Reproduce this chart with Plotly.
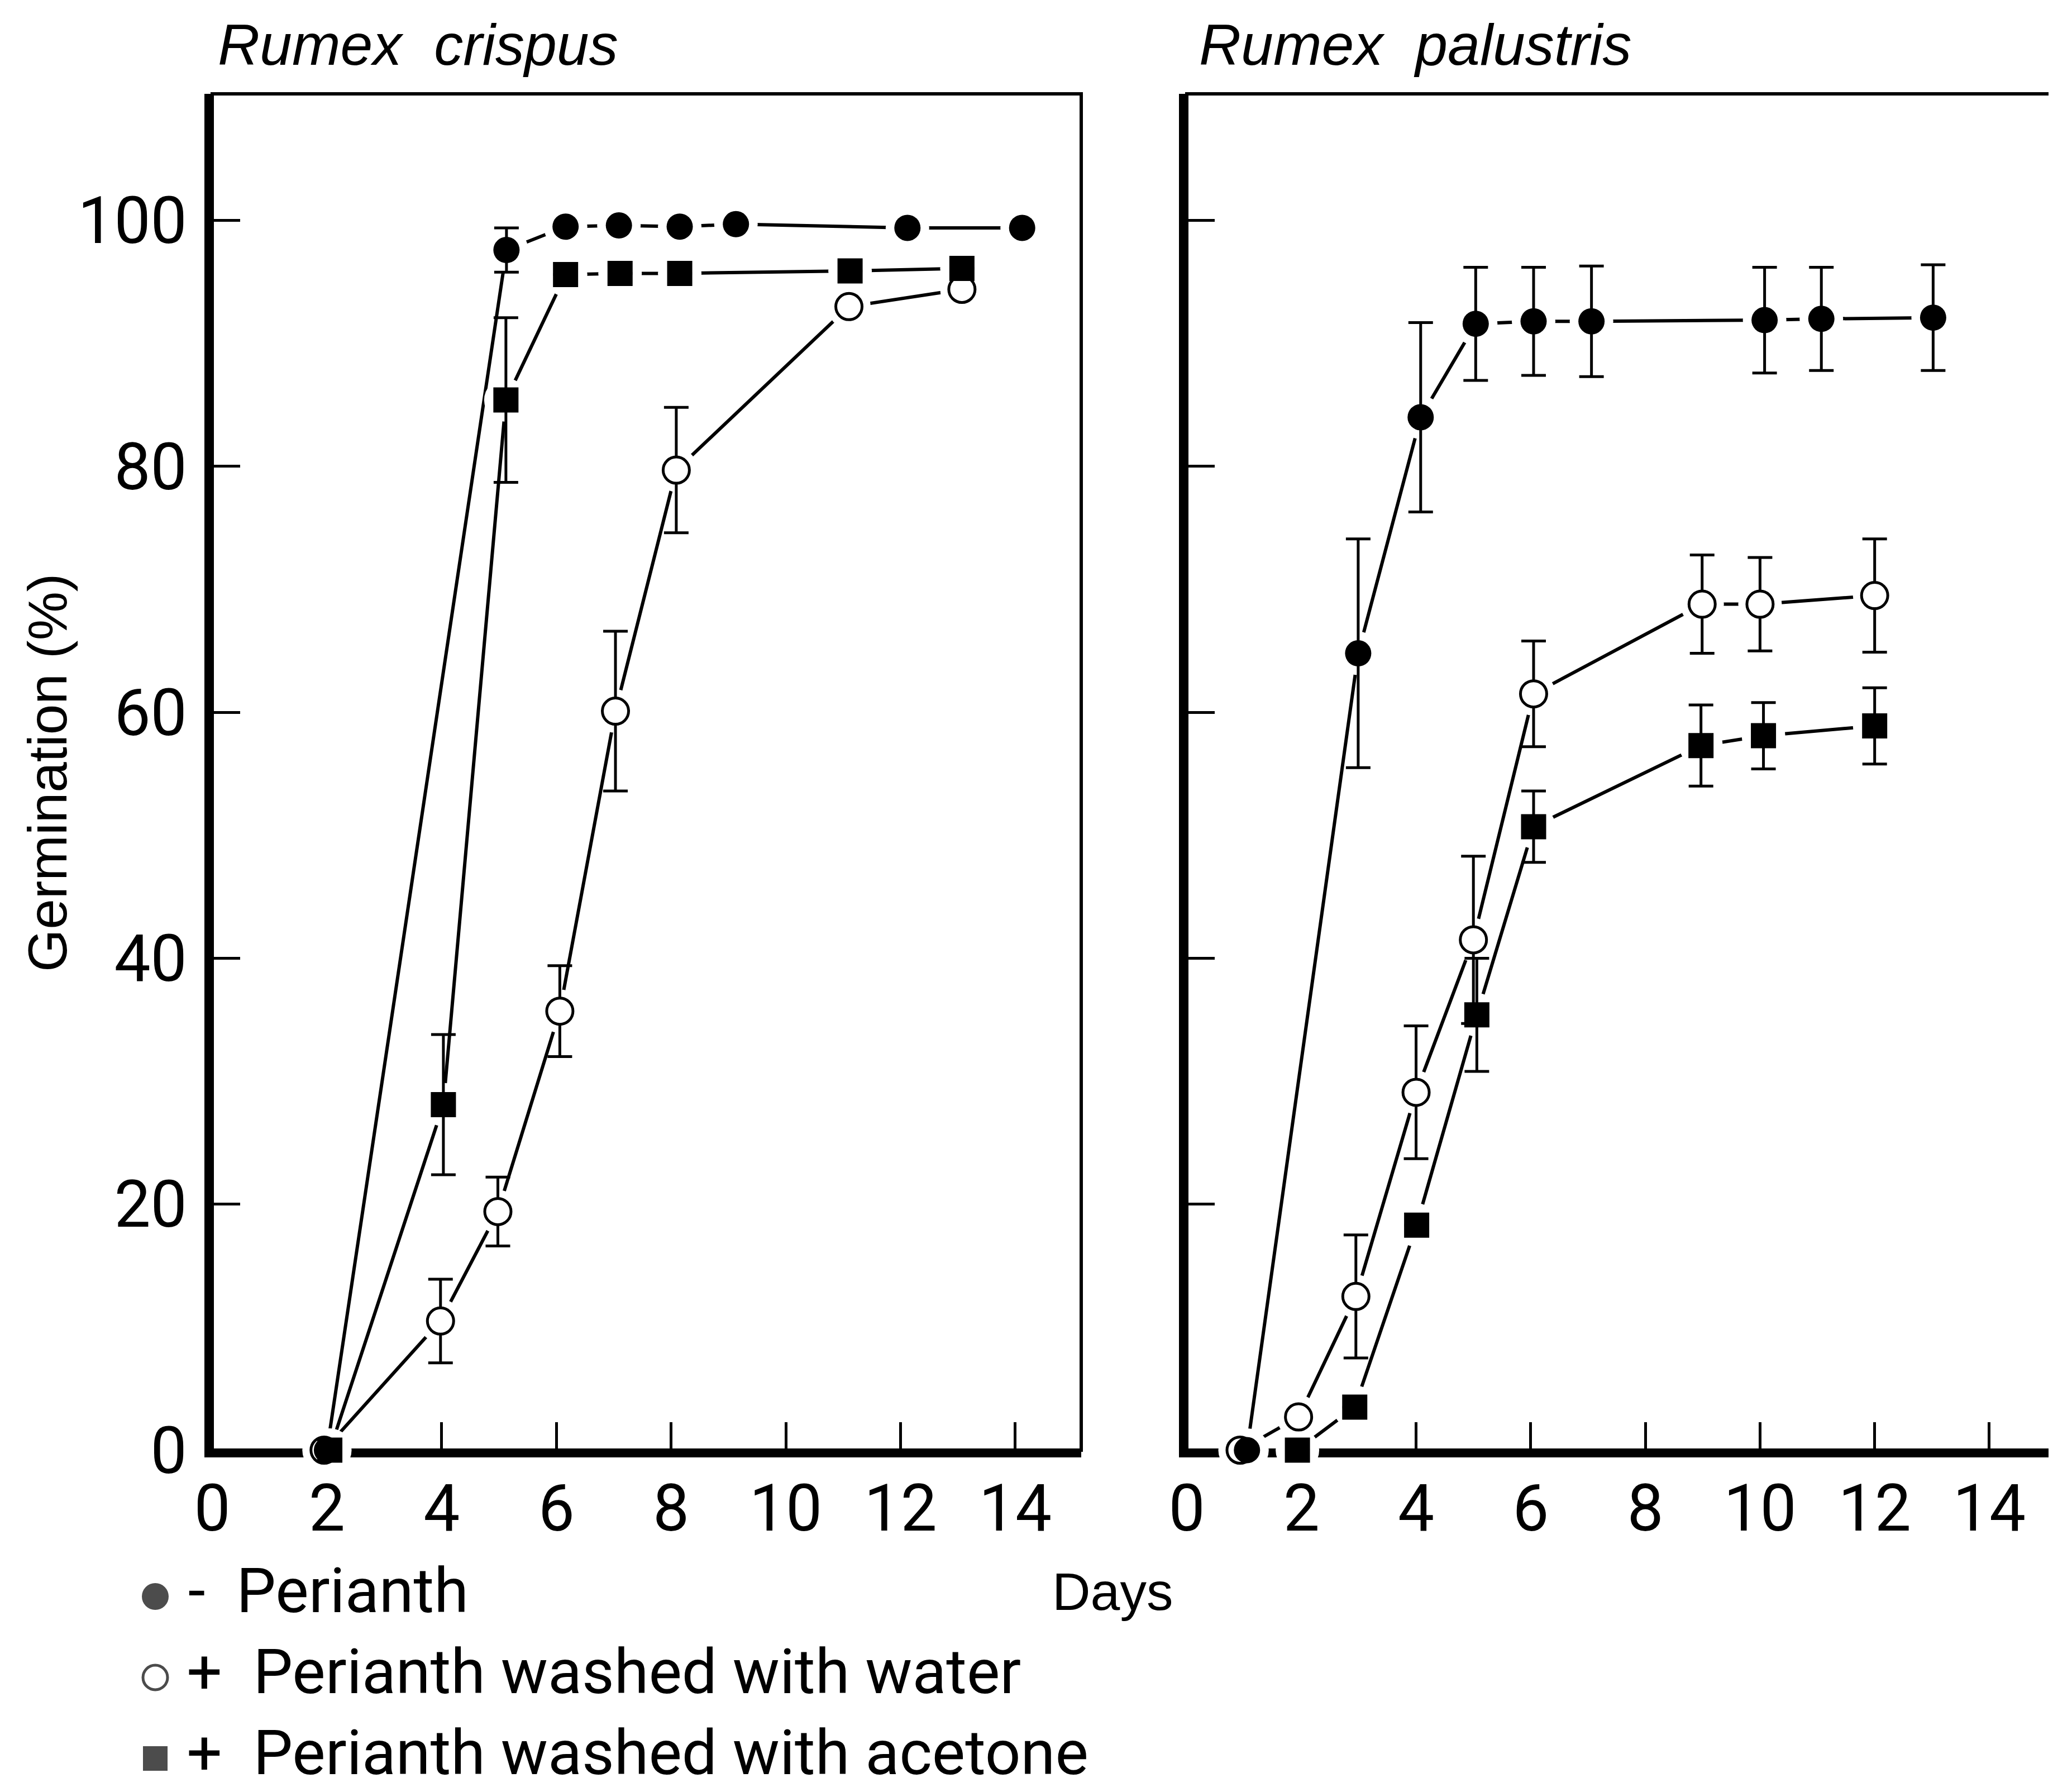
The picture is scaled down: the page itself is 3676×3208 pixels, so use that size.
import plotly.graph_objects as go

# ---------------- data ----------------
# Rumex crispus
rc_minus_days = [2.0, 5.13, 6.16, 7.09, 8.15, 9.13, 12.12, 14.12]
rc_minus_vals = [0.0, 97.6, 99.5, 99.6, 99.5, 99.7, 99.4, 99.4]
rc_minus_err = [None, 1.8, None, None, None, None, None, None]

rc_water_days = [1.95, 3.98, 4.98, 6.06, 7.03, 8.09, 11.1, 13.07]
rc_water_vals = [0.0, 10.5, 19.4, 35.7, 60.1, 79.7, 93.0, 94.4]
rc_water_err = [None, 3.4, 2.8, 3.7, 6.5, 5.1, None, None]

rc_acet_days = [2.05, 4.03, 5.12, 6.16, 7.11, 8.15, 11.12, 13.07]
rc_acet_vals = [0.0, 28.1, 85.4, 95.6, 95.7, 95.7, 95.9, 96.1]
rc_acet_err = [None, 5.7, 6.7, None, None, None, None, None]

# Rumex palustris
rp_minus_days = [1.05, 2.99, 4.08, 5.04, 6.05, 7.06, 10.08, 11.07, 13.02]
rp_minus_vals = [0.0, 64.8, 84.0, 91.6, 91.8, 91.8, 91.9, 92.0, 92.1]
rp_minus_err = [None, 9.3, 7.7, 4.6, 4.4, 4.5, 4.3, 4.2, 4.3]

rp_water_days = [0.93, 1.95, 2.95, 4.0, 5.0, 6.05, 8.99, 10.0, 12.0]
rp_water_vals = [0.0, 2.7, 12.5, 29.1, 41.5, 61.5, 68.8, 68.8, 69.5]
rp_water_err = [None, None, 5.0, 5.4, 6.8, 4.3, 4.0, 3.8, 4.6]

rp_acet_days = [1.93, 2.93, 4.01, 5.06, 6.05, 8.97, 10.06, 12.0]
rp_acet_vals = [0.0, 3.5, 18.3, 35.4, 50.7, 57.3, 58.1, 58.9]
rp_acet_err = [None, None, None, 4.6, 2.9, 3.3, 2.7, 3.1]

x_ticks = [0, 2, 4, 6, 8, 10, 12, 14]
x_minor_ticks = [4, 6, 8, 10, 12, 14]
y_ticks = [0, 20, 40, 60, 80, 100]

panel_titles = ["Rumex  crispus", "Rumex  palustris"]
legend_signs = ["-", "+", "+"]
legend_labels = ["Perianth", "Perianth washed with water", "Perianth washed with acetone"]

# ---------------- styling ----------------
NARROW = "Roboto, Liberation Sans, sans-serif"
SANS = "Liberation Sans, Arial, Helvetica, sans-serif"
LW = 6
CIRC = 47
SQ = 45
HALO = 78
NB = "\u00a0"

fig = go.Figure()

series_styles = {
    "water": dict(symbol="circle", color="white", line=dict(color="black", width=5), size=CIRC),
    "minus": dict(symbol="circle", color="black", line=dict(color="black", width=0), size=CIRC),
    "acet": dict(symbol="square", color="black", line=dict(color="black", width=0), size=SQ),
}

panels = [
    ("x", "y", [("water", rc_water_days, rc_water_vals, rc_water_err),
                ("minus", rc_minus_days, rc_minus_vals, rc_minus_err),
                ("acet", rc_acet_days, rc_acet_vals, rc_acet_err)]),
    ("x2", "y2", [("water", rp_water_days, rp_water_vals, rp_water_err),
                  ("minus", rp_minus_days, rp_minus_vals, rp_minus_err),
                  ("acet", rp_acet_days, rp_acet_vals, rp_acet_err)]),
]

for xa, ya, series in panels:
    # connecting lines
    for key, xs, ys, es in series:
        fig.add_trace(go.Scatter(x=xs, y=ys, xaxis=xa, yaxis=ya, mode="lines",
                                 line=dict(color="black", width=LW), showlegend=False,
                                 hoverinfo="skip", cliponaxis=False))
    # white halos (gaps between lines and symbols)
    for key, xs, ys, es in series:
        fig.add_trace(go.Scatter(x=xs, y=ys, xaxis=xa, yaxis=ya, mode="markers",
                                 marker=dict(symbol="circle", color="white", size=HALO),
                                 showlegend=False, hoverinfo="skip", cliponaxis=False))
    # symbols with error bars
    for key, xs, ys, es in series:
        st = series_styles[key]
        fig.add_trace(go.Scatter(x=xs, y=ys, xaxis=xa, yaxis=ya, mode="markers",
                                 marker=dict(symbol=st["symbol"], color=st["color"],
                                             size=st["size"], line=st["line"]),
                                 error_y=dict(type="data", array=es, symmetric=True,
                                              color="black", thickness=5, width=22),
                                 showlegend=False, cliponaxis=False))

# legend drawn as markers + text on an auxiliary axis
n_leg = len(legend_labels)
leg_text = [NB + s + NB + NB + t for s, t in zip(legend_signs, legend_labels)]
fig.add_trace(go.Scatter(
    x=[0] * n_leg, y=[n_leg - 1 - i for i in range(n_leg)],
    xaxis="x3", yaxis="y3", mode="markers+text",
    text=leg_text, textposition="middle right",
    textfont=dict(family=NARROW, size=112, color="black"),
    marker=dict(symbol=["circle", "circle", "square"],
                color=["black", "white", "black"],
                line=dict(color="black", width=[0, 5, 0]), size=[48, 44, 44]),
    showlegend=False, cliponaxis=False, hoverinfo="skip"))

X_DOM1 = [372 / 3676, 1928 / 3676]
X_DOM2 = [2117 / 3676, 3672 / 3676]
Y_DOM = [1 - 2588 / 3208, 1 - 160 / 3208]
X_RANGE = [0, 15.15]
Y_RANGE = [0, 110.3]


def xax(domain, anchor):
    return dict(domain=domain, anchor=anchor, range=X_RANGE, showgrid=False, zeroline=False,
                automargin=False,
                showline=True, linewidth=13, linecolor="black", mirror=False,
                tickmode="array", tickvals=x_ticks, ticktext=[str(v) for v in x_ticks],
                ticks="", ticklabelstandoff=-8,
                minor=dict(tickmode="array", tickvals=x_minor_ticks, ticks="inside",
                           ticklen=50, tickwidth=5, tickcolor="black", showgrid=False),
                tickfont=dict(family=NARROW, size=116, color="black"), layer="below traces")


def yax(anchor, labels):
    return dict(domain=Y_DOM, anchor=anchor, range=Y_RANGE, showgrid=False, zeroline=False,
                automargin=False,
                showline=True, linewidth=14, linecolor="black", mirror=False,
                tickmode="array", tickvals=y_ticks, ticktext=[str(v) for v in y_ticks],
                ticks="inside", ticklen=50, tickwidth=5, tickcolor="black",
                showticklabels=labels, ticklabelstandoff=8,
                tickfont=dict(family=NARROW, size=116, color="black"), layer="below traces")


fig.update_layout(
    template="none",
    width=3676, height=3208,
    margin=dict(l=0, r=0, t=0, b=0, pad=0, autoexpand=False),
    paper_bgcolor="white", plot_bgcolor="white",
    xaxis=xax(X_DOM1, "y"),
    yaxis=yax("x", True),
    xaxis2=xax(X_DOM2, "y2"),
    yaxis2=yax("x2", False),
    xaxis3=dict(domain=[270 / 3676, 0.6], anchor="y3", range=[0, 1], visible=False, automargin=False),
    yaxis3=dict(domain=[1 - 3140 / 3208, 1 - 2850 / 3208], anchor="x3", range=[0, 2],
                visible=False, automargin=False),
    showlegend=False,
    shapes=[
        dict(type="rect", xref="x domain", yref="y domain", x0=0, x1=1, y0=0, y1=1,
             line=dict(color="black", width=6), layer="below"),
        dict(type="rect", xref="x2 domain", yref="y2 domain", x0=0, x1=1, y0=0, y1=1,
             line=dict(color="black", width=6), layer="below"),
    ],
    annotations=[
        dict(text="<i>" + panel_titles[0] + "</i>", xref="paper", yref="paper",
             x=380 / 3676, y=1 - 72 / 3208, xanchor="left", yanchor="middle", showarrow=False,
             font=dict(family=SANS, size=104, color="black")),
        dict(text="<i>" + panel_titles[1] + "</i>", xref="paper", yref="paper",
             x=2137 / 3676, y=1 - 72 / 3208, xanchor="left", yanchor="middle", showarrow=False,
             font=dict(family=SANS, size=104, color="black")),
        dict(text="Germination (%)", xref="paper", yref="paper", textangle=-90,
             x=77 / 3676, y=1 - 1376 / 3208, xanchor="center", yanchor="middle", showarrow=False,
             font=dict(family=SANS, size=98, color="black")),
        dict(text="Days", xref="paper", yref="paper",
             x=1984 / 3676, y=1 - 2841 / 3208, xanchor="center", yanchor="middle", showarrow=False,
             font=dict(family=SANS, size=95, color="black")),
    ],
)

fig.write_html("out.html")
